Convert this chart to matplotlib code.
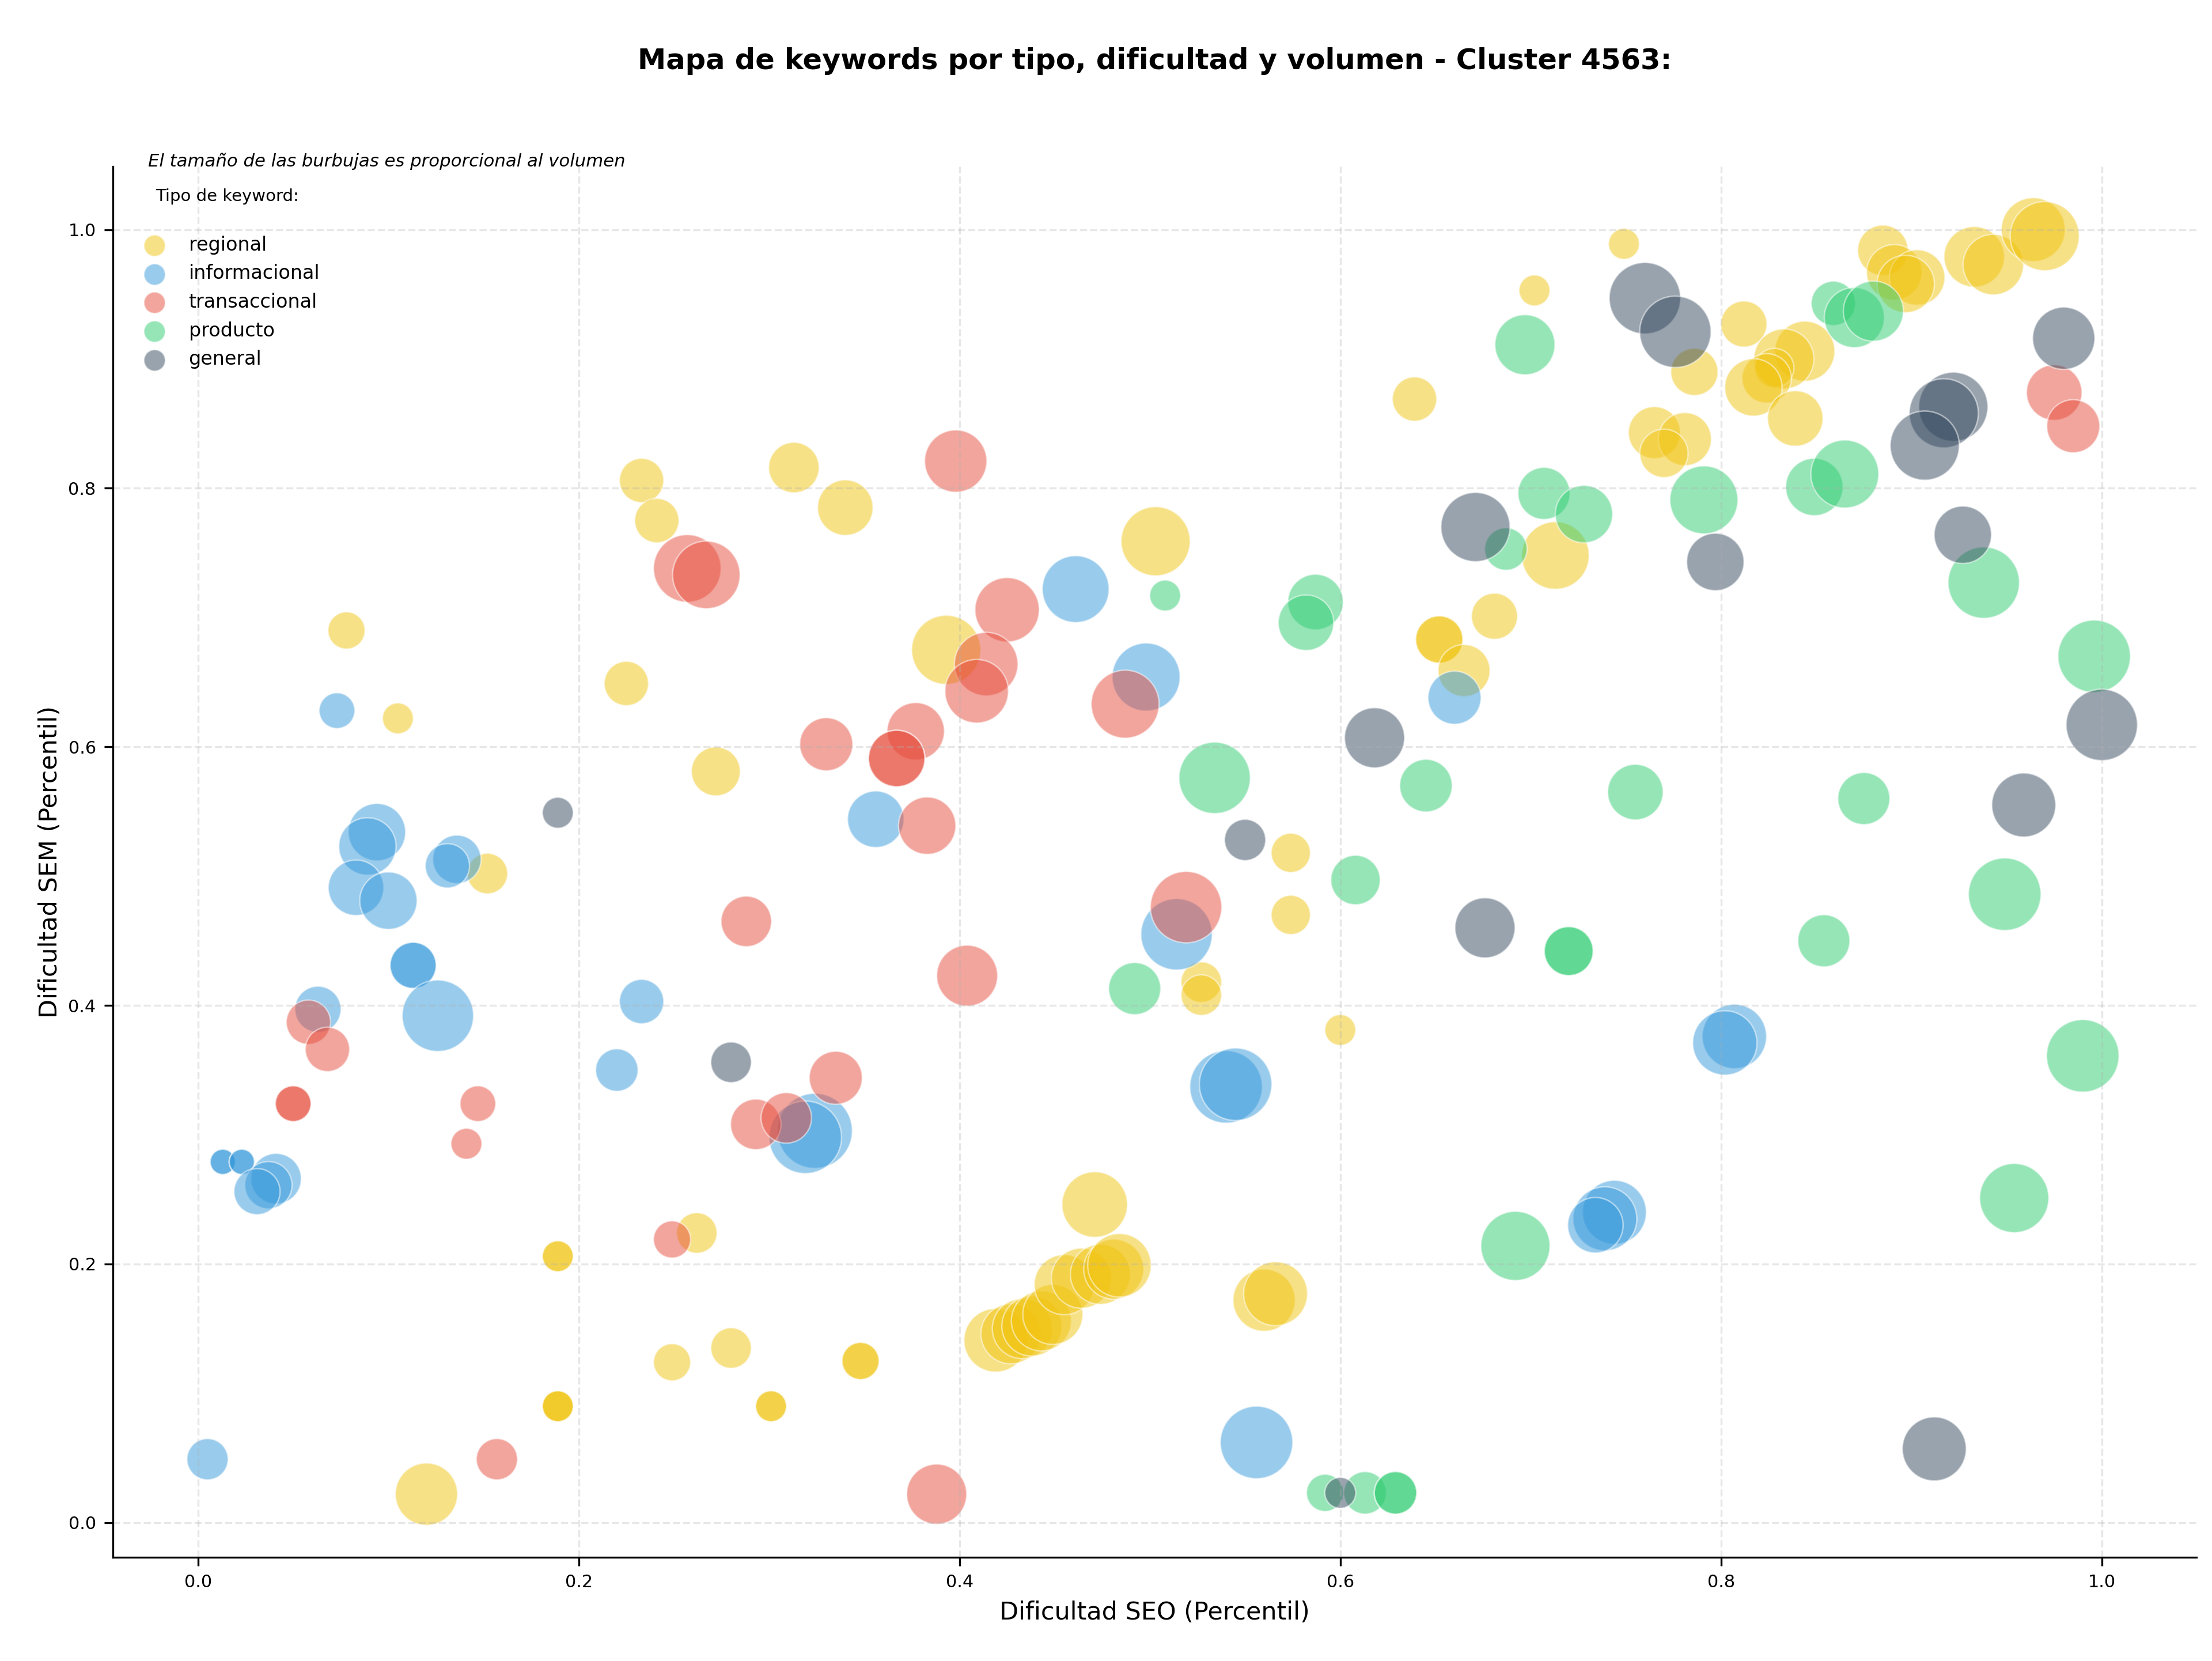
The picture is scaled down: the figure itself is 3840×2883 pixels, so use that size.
import matplotlib
matplotlib.use('Agg')
import matplotlib.pyplot as plt

# Datos: dificultad SEO (x), dificultad SEM (y), volumen
regional_seo = [0.233, 0.241, 0.313, 0.078, 0.225, 0.105, 0.272, 0.152, 0.189, 0.189,
                0.249, 0.280, 0.301, 0.301, 0.189, 0.189, 0.189, 0.120, 0.262, 0.340,
                0.503, 0.393, 0.574, 0.639, 0.652, 0.652, 0.665, 0.681, 0.749, 0.702,
                0.786, 0.812, 0.844, 0.833, 0.828, 0.824, 0.817, 0.839, 0.885, 0.891,
                0.903, 0.897, 0.933, 0.943, 0.964, 0.970, 0.765, 0.781, 0.770, 0.713,
                0.574, 0.527, 0.527, 0.600, 0.471, 0.419, 0.427, 0.433, 0.438, 0.443,
                0.449, 0.455, 0.464, 0.474, 0.481, 0.484, 0.560, 0.566, 0.348, 0.348]
regional_sem = [0.806, 0.775, 0.816, 0.690, 0.649, 0.622, 0.581, 0.502, 0.206, 0.206,
                0.124, 0.135, 0.090, 0.090, 0.090, 0.090, 0.090, 0.022, 0.224, 0.785,
                0.759, 0.675, 0.518, 0.869, 0.683, 0.683, 0.659, 0.701, 0.989, 0.953,
                0.890, 0.927, 0.906, 0.900, 0.893, 0.885, 0.878, 0.854, 0.984, 0.967,
                0.963, 0.958, 0.979, 0.973, 1.000, 0.995, 0.843, 0.838, 0.827, 0.748,
                0.470, 0.418, 0.408, 0.381, 0.246, 0.141, 0.146, 0.150, 0.152, 0.156,
                0.161, 0.184, 0.189, 0.192, 0.196, 0.199, 0.172, 0.177, 0.125, 0.125]
regional_vol = [370, 370, 480, 260, 370, 180, 450, 310, 180, 180,
                260, 310, 180, 180, 180, 180, 180, 730, 310, 580,
                900, 900, 290, 370, 420, 420, 510, 400, 180, 180,
                420, 400, 680, 680, 290, 460, 620, 580, 480, 580,
                580, 620, 690, 690, 770, 900, 510, 530, 440, 860,
                290, 310, 310, 180, 810, 760, 680, 680, 680, 680,
                680, 680, 680, 680, 680, 760, 730, 770, 260, 260]

informacional_seo = [0.073, 0.094, 0.089, 0.136, 0.131, 0.083, 0.100, 0.113, 0.113, 0.126,
                     0.063, 0.013, 0.013, 0.023, 0.023, 0.041, 0.037, 0.031, 0.233, 0.220,
                     0.005, 0.461, 0.498, 0.356, 0.660, 0.514, 0.540, 0.545, 0.324, 0.319,
                     0.556, 0.807, 0.802, 0.744, 0.739, 0.734]
informacional_sem = [0.628, 0.534, 0.523, 0.513, 0.508, 0.491, 0.481, 0.431, 0.431, 0.392,
                     0.397, 0.279, 0.279, 0.279, 0.279, 0.266, 0.261, 0.256, 0.403, 0.350,
                     0.049, 0.722, 0.654, 0.544, 0.638, 0.455, 0.337, 0.339, 0.303, 0.298,
                     0.062, 0.376, 0.371, 0.240, 0.235, 0.230]
informacional_vol = [240, 620, 620, 440, 370, 580, 620, 400, 400, 960,
                     400, 120, 120, 120, 120, 480, 420, 400, 370, 340,
                     320, 840, 870, 600, 530, 960, 990, 990, 1060, 990,
                     990, 780, 780, 770, 770, 580]

transaccional_seo = [0.257, 0.267, 0.398, 0.425, 0.414, 0.409, 0.487, 0.377, 0.367, 0.367,
                     0.330, 0.383, 0.288, 0.058, 0.068, 0.050, 0.050, 0.147, 0.141, 0.293,
                     0.309, 0.249, 0.157, 0.519, 0.404, 0.335, 0.388, 0.975, 0.985]
transaccional_sem = [0.738, 0.733, 0.821, 0.706, 0.664, 0.643, 0.633, 0.612, 0.591, 0.591,
                     0.602, 0.539, 0.465, 0.387, 0.366, 0.324, 0.324, 0.324, 0.293, 0.308,
                     0.313, 0.219, 0.049, 0.476, 0.423, 0.344, 0.022, 0.874, 0.848]
transaccional_vol = [860, 860, 730, 780, 760, 760, 870, 620, 600, 600,
                     530, 620, 480, 370, 370, 240, 240, 240, 180, 480,
                     480, 260, 320, 960, 700, 530, 680, 580, 530]

producto_seo = [0.508, 0.534, 0.645, 0.587, 0.582, 0.697, 0.859, 0.870, 0.880, 0.707,
                0.728, 0.687, 0.791, 0.849, 0.865, 0.938, 0.996, 0.755, 0.875, 0.608,
                0.492, 0.592, 0.613, 0.629, 0.629, 0.692, 0.720, 0.720, 0.854, 0.949,
                0.990, 0.954]
producto_sem = [0.717, 0.576, 0.570, 0.712, 0.696, 0.911, 0.943, 0.932, 0.937, 0.796,
                0.780, 0.753, 0.791, 0.801, 0.811, 0.727, 0.670, 0.565, 0.560, 0.497,
                0.413, 0.023, 0.023, 0.023, 0.023, 0.214, 0.442, 0.442, 0.450, 0.486,
                0.361, 0.251]
producto_vol = [180, 960, 520, 580, 580, 680, 370, 680, 680, 510,
                620, 340, 870, 620, 870, 960, 990, 580, 510, 460,
                510, 260, 340, 340, 340, 900, 450, 450, 510, 990,
                990, 900]

general_seo = [0.189, 0.280, 0.550, 0.618, 0.671, 0.760, 0.776, 0.980, 0.922, 0.917,
               0.907, 0.797, 0.927, 1.000, 0.959, 0.676, 0.600, 0.912]
general_sem = [0.549, 0.356, 0.528, 0.607, 0.770, 0.947, 0.921, 0.916, 0.863, 0.858,
               0.833, 0.743, 0.764, 0.617, 0.555, 0.460, 0.023, 0.057]
general_vol = [180, 310, 320, 680, 900, 960, 960, 730, 900, 900,
               900, 620, 620, 960, 770, 680, 180, 770]

tipos = ['regional', 'informacional', 'transaccional', 'producto', 'general']
colores = {
    'regional': '#f1c40f',
    'informacional': '#3498db',
    'transaccional': '#e74c3c',
    'producto': '#2ecc71',
    'general': '#34495e',
}
series = {
    'regional': (regional_seo, regional_sem, regional_vol),
    'informacional': (informacional_seo, informacional_sem, informacional_vol),
    'transaccional': (transaccional_seo, transaccional_sem, transaccional_vol),
    'producto': (producto_seo, producto_sem, producto_vol),
    'general': (general_seo, general_sem, general_vol),
}

escala = 0.92  # volumen -> area de la burbuja (pt^2)

fig, ax = plt.subplots(figsize=(12.8, 9.61), dpi=300)
fig.subplots_adjust(left=0.051, right=0.993, bottom=0.0624, top=0.8998)

for tipo in tipos:
    seo, sem, vol = series[tipo]
    ax.scatter(seo, sem, s=[v * escala for v in vol], color=colores[tipo],
               alpha=0.5, edgecolors='white', linewidths=0.6, label=tipo)

ax.set_title("Mapa de keywords por tipo, dificultad y volumen - Cluster 4563:",
             fontsize=11.9, fontweight='bold', pad=40.5)
ax.set_xlabel("Dificultad SEO (Percentil)", fontsize=10.3)
ax.set_ylabel("Dificultad SEM (Percentil)", fontsize=10.3, labelpad=2.5)
ax.tick_params(labelsize=7.3)
ax.grid(True, linestyle='--', alpha=0.3)
ax.spines['top'].set_visible(False)
ax.spines['right'].set_visible(False)

ax.text(0.017, 1.0, "El tamaño de las burbujas es proporcional al volumen",
        transform=ax.transAxes, fontsize=7.4, style='italic', va='baseline')

leg = ax.legend(title="Tipo de keyword:\n", loc='upper left', frameon=False,
                fontsize=8, title_fontsize=7.0, scatterpoints=1, borderaxespad=0.75)
leg.get_title().set_linespacing(1.4)
for h in leg.legend_handles:
    h.set_sizes([80])

plt.savefig("out.png", dpi=300)
